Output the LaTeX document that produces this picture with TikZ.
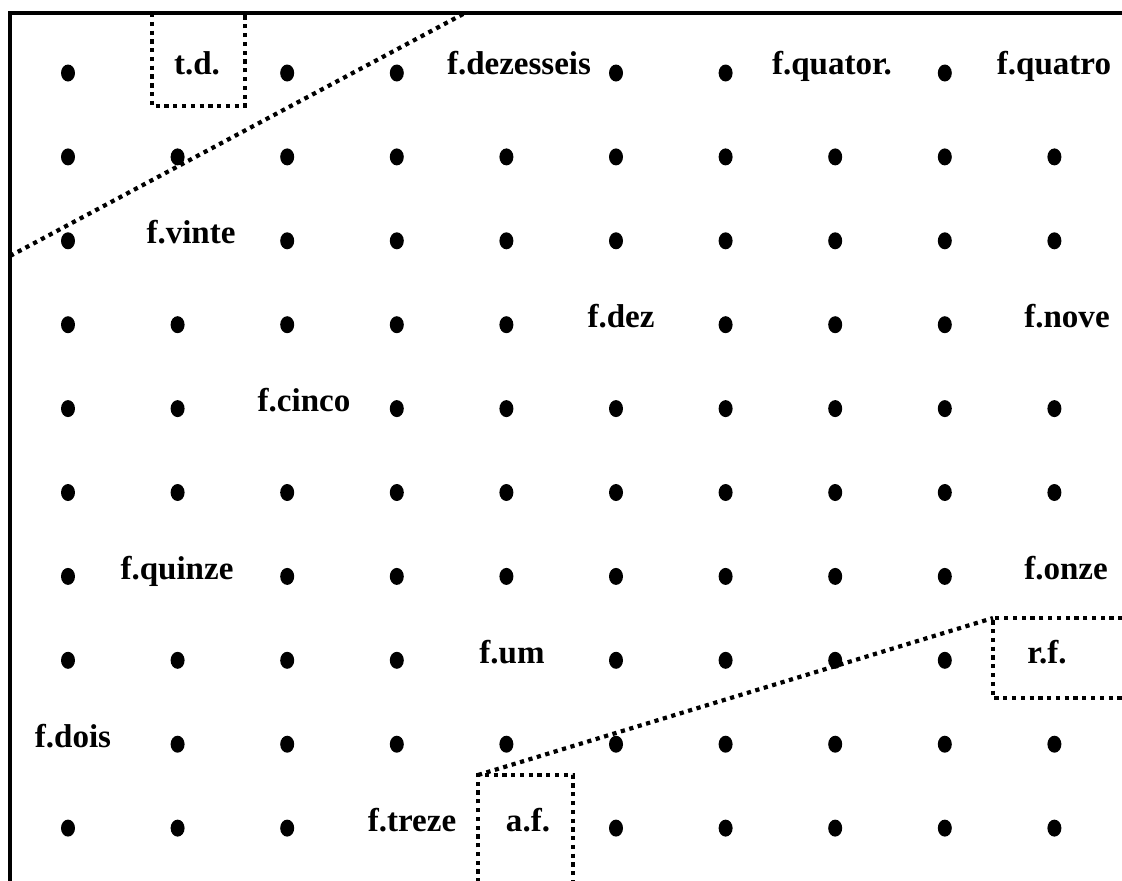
\documentclass[tikz,border=0pt]{standalone}
\usepackage{fontspec}
\setmainfont{Liberation Serif}
\usetikzlibrary{shapes.geometric}
\tikzset{
  borda/.style={black,line width=2pt},
  linha/.style={black,line width=2.4pt,dash pattern=on 2.4pt off 2.6pt},
  ponto/.style={ellipse,fill=black,inner sep=0pt,minimum width=0.28cm,minimum height=0.34cm},
  rotulo/.style={anchor=base,inner sep=0pt,font=\fontsize{18.8}{22}\selectfont\bfseries},
}

\begin{document}
\begin{tikzpicture}[x=0.02cm,y=-0.02cm]
  \useasboundingbox (0,0) rectangle (1122,880);
  \clip (0,0) rectangle (1122,880);
  % pontos da grelha
  \foreach \r/\cs in {1/{1,3,4,6,7,9},2/{1,...,10},3/{1,3,4,5,6,7,8,9,10},
      4/{1,2,3,4,5,7,8,9},5/{1,2,4,5,6,7,8,9,10},6/{1,...,10},
      7/{1,3,4,5,6,7,8,9},8/{1,2,3,4,6,7,8,9},9/{2,3,4,5,6,7,8,9,10},
      10/{1,2,3,6,7,8,9,10}}
    \foreach \c in \cs
      \node[ponto] (p\c-\r) at ({68+109.6*(\c-1)},{73+83.9*(\r-1)}) {};
  % moldura
  \coordinate (canto) at (10,13);
  \draw[borda] (10,900) -- (canto) -- (1140,13);
  % rotulos
  \node[rotulo] (td) at (197,74) {t.d.};
  \node[rotulo] (f16) at (519,74) {f.dezesseis};
  \node[rotulo] (fqr) at (832,74) {f.quator.};
  \node[rotulo] (f4) at (1054,74) {f.quatro};
  \node[rotulo] (f20) at (191,243) {f.vinte};
  \node[rotulo] (f10) at (621,327) {f.dez};
  \node[rotulo] (f9) at (1067,327) {f.nove};
  \node[rotulo] (f5) at (304,411) {f.cinco};
  \node[rotulo] (f15) at (177,579) {f.quinze};
  \node[rotulo] (f11) at (1066,579) {f.onze};
  \node[rotulo] (f1) at (512,663) {f.um};
  \node[rotulo] (rf) at (1047,663) {r.f.};
  \node[rotulo] (f2) at (73,747) {f.dois};
  \node[rotulo] (f13) at (412,831) {f.treze};
  \node[rotulo] (af) at (528,831) {a.f.};
  % caixas e diagonais
  \draw[linha] (152,13) rectangle (245,106);
  \coordinate (afnw) at (478,775);
  \coordinate (rfnw) at (993,618);
  \draw[linha] (478,900) -- (afnw) -- (573,775) -- (573,900);
  \draw[linha] (1140,618) -- (rfnw) -- (993,698) -- (1140,698);
  \coordinate (da) at (10,256);
  \coordinate (db) at (465,13);
  \draw[linha] (da) -- (db);
  \draw[linha] (afnw) -- (rfnw);
\end{tikzpicture}
\end{document}
